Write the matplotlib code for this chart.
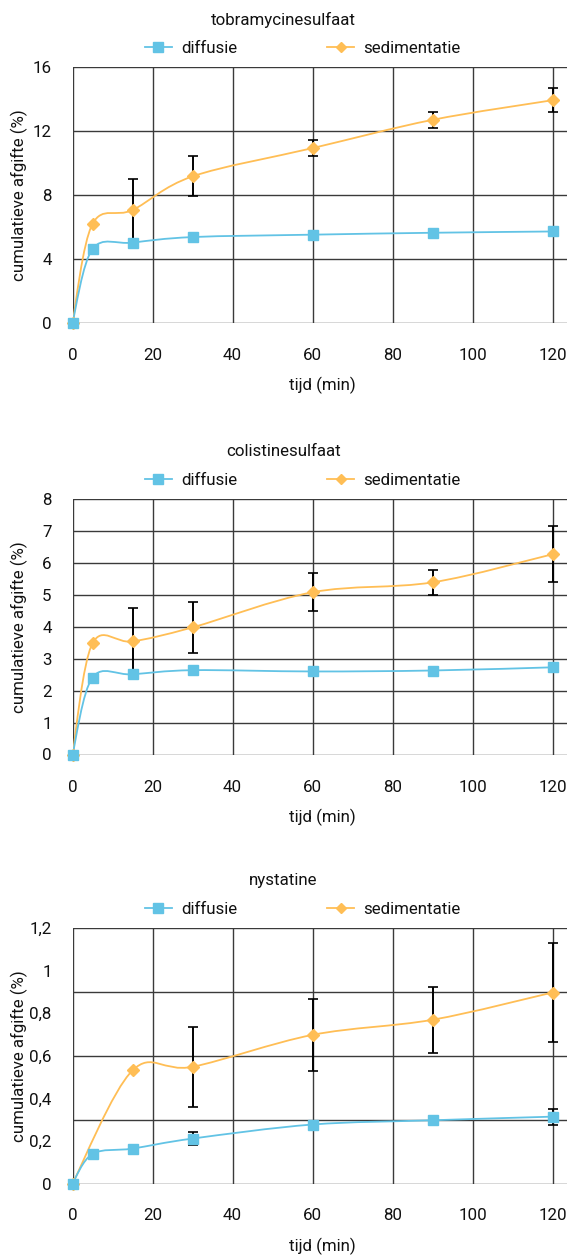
import numpy as np
import matplotlib.pyplot as plt
from matplotlib.path import Path
from matplotlib.patches import PathPatch
from matplotlib.lines import Line2D

plt.rcParams['font.family'] = ['Roboto', 'DejaVu Sans']

# data
time = [0, 5, 15, 30, 60, 90, 120]

tobra_diff = [0, 4.6, 5.0, 5.35, 5.5, 5.62, 5.7]
tobra_diff_err = [0, 0.1, 0.1, 0.1, 0.1, 0.1, 0.1]
tobra_sed = [0, 6.17, 7.04, 9.15, 10.92, 12.69, 13.92]
tobra_sed_err = [0, 0, 1.92, 1.25, 0.5, 0.5, 0.76]

colis_diff = [0, 2.41, 2.51, 2.64, 2.6, 2.63, 2.73]
colis_diff_err = [0, 0.05, 0.05, 0.05, 0.05, 0.05, 0.05]
colis_sed = [0, 3.48, 3.54, 3.98, 5.08, 5.39, 6.27]
colis_sed_err = [0, 0, 1.05, 0.8, 0.6, 0.4, 0.88]

nyst_diff = [0, 0.139, 0.164, 0.211, 0.277, 0.297, 0.314]
nyst_diff_err = [0, 0, 0, 0.03, 0, 0, 0.038]
nyst_sed_time = [0, 15, 30, 60, 90, 120]
nyst_sed = [0, 0.531, 0.548, 0.698, 0.769, 0.897]
nyst_sed_err = [0, 0, 0.188, 0.17, 0.156, 0.233]

titles = ['tobramycinesulfaat', 'colistinesulfaat', 'nystatine']
x_ticks = [0, 20, 40, 60, 80, 100, 120]

BLUE = '#62C3E5'
ORANGE = '#FFBE55'
GRID = '#3a3a3a'
TXT = '#111111'
FS = 12.2


def smooth_path(x, y):
    # excel style smoothed line: cubic bezier through the points
    pts = np.column_stack([x, y]).astype(float)
    n = len(pts)
    verts = [pts[0]]
    codes = [Path.MOVETO]
    for i in range(n - 1):
        p0 = pts[max(i - 1, 0)]
        p1 = pts[i]
        p2 = pts[i + 1]
        p3 = pts[min(i + 2, n - 1)]
        verts += [p1 + (p2 - p0) / 6, p2 - (p3 - p1) / 6, p2]
        codes += [Path.CURVE4] * 3
    return Path(verts, codes)


def draw_chart(ax, top_px, title, series, ymax, yticks, ylabels, grid_step):
    ax.set_xlim(0, 125)
    ax.set_ylim(0, ymax)
    for yg in np.arange(0, ymax + 1e-9, grid_step):
        ax.axhline(yg, color=GRID, lw=1.0, zorder=1)
    for xg in x_ticks:
        ax.axvline(xg, color=GRID, lw=1.0, zorder=1)
    for s in ax.spines.values():
        s.set_visible(False)

    for x, y, err, color, marker, ms in series:
        ax.errorbar(x, y, yerr=err, fmt='none', ecolor='black',
                    elinewidth=1.4, capsize=3.4, capthick=1.2, zorder=2)
        ax.add_patch(PathPatch(smooth_path(x, y), fill=False,
                               edgecolor=color, lw=1.3, zorder=3))
        ax.plot(x, y, linestyle='none', marker=marker, ms=ms,
                color=color, mec=color, zorder=4, clip_on=False)

    ax.set_xticks(x_ticks)
    ax.set_yticks(yticks)
    ax.set_yticklabels(ylabels)
    ax.tick_params(length=0, labelsize=FS, colors=TXT)
    ax.tick_params(axis='x', pad=18)
    ax.tick_params(axis='y', pad=15)
    ax.set_xlabel('tijd (min)', fontsize=FS, labelpad=10, color=TXT)
    ax.set_ylabel('cumulatieve afgifte (%)', fontsize=FS, color=TXT)
    ax.yaxis.set_label_coords(-(72.5 - 28) / 500, 0.5)

    fig.text(0.5, 1 - (top_px - 47) / 1259, title, ha='center', va='center',
             fontsize=FS, color=TXT)
    handles = [Line2D([], [], color=BLUE, marker='s', ms=6.5, lw=1.3),
               Line2D([], [], color=ORANGE, marker='D', ms=5.5, lw=1.3)]
    fig.legend(handles, ['diffusie', 'sedimentatie'], ncol=2, frameon=False,
               loc='center', bbox_to_anchor=(0.534, 1 - (top_px - 18.5) / 1259),
               fontsize=FS, handlelength=1.6, handletextpad=0.55,
               columnspacing=5.3, borderpad=0, labelcolor=TXT)


fig = plt.figure(figsize=(5.67, 12.59), dpi=100)

left = 72.5 / 567
width = 500 / 567
tops = [67, 499, 928]
height = 255.5 / 1259
axes = [fig.add_axes([left, 1 - (t + 255.5) / 1259, width, height]) for t in tops]

draw_chart(axes[0], tops[0], titles[0],
           [(time, tobra_sed, tobra_sed_err, ORANGE, 'D', 6),
            (time, tobra_diff, tobra_diff_err, BLUE, 's', 7)],
           16, [0, 4, 8, 12, 16], ['0', '4', '8', '12', '16'], 4)

draw_chart(axes[1], tops[1], titles[1],
           [(time, colis_sed, colis_sed_err, ORANGE, 'D', 6),
            (time, colis_diff, colis_diff_err, BLUE, 's', 7)],
           8, list(range(9)), [str(v) for v in range(9)], 1)

draw_chart(axes[2], tops[2], titles[2],
           [(nyst_sed_time, nyst_sed, nyst_sed_err, ORANGE, 'D', 6),
            (time, nyst_diff, nyst_diff_err, BLUE, 's', 7)],
           1.2, [0, 0.2, 0.4, 0.6, 0.8, 1.0, 1.2],
           ['0', '0,2', '0,4', '0,6', '0,8', '1', '1,2'], 0.3)

fig.savefig('out.png', dpi=100)
